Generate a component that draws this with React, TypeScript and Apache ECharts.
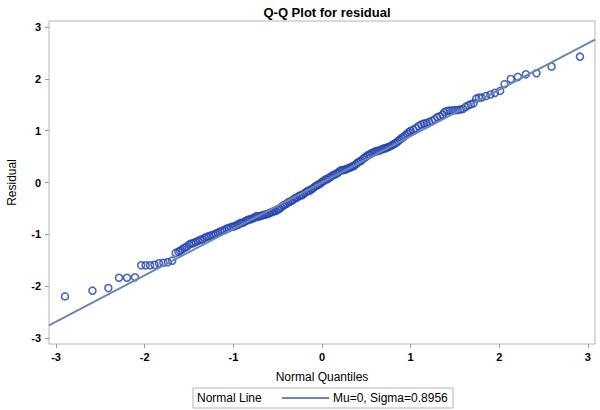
import React, { useEffect, useRef } from "react";
import * as echarts from "echarts";

// Normal line parameters
const MU = 0;
const SIGMA = 0.8956;

// Axis tick values
const xTicks = [-3, -2, -1, 0, 1, 2, 3];
const yTicks = [-3, -2, -1, 0, 1, 2, 3];

// Normal quantiles (x) and residuals (y)
const quantiles = [
  -2.9, -2.59, -2.41, -2.29, -2.2, -2.11, -2.04, -1.99, -1.94, -1.89, -1.84, -1.79, -1.74, -1.69, -1.65, -1.62,
  -1.6, -1.575, -1.55, -1.525, -1.5, -1.475, -1.45, -1.425, -1.4, -1.375, -1.35, -1.325, -1.3, -1.275, -1.25,
  -1.225, -1.2, -1.175, -1.15, -1.125, -1.1, -1.075, -1.05, -1.025, -1.0,
  -0.98, -0.96, -0.94, -0.92, -0.9, -0.88, -0.86, -0.84, -0.82, -0.8, -0.78, -0.76, -0.74, -0.72, -0.7, -0.68,
  -0.66, -0.64, -0.62, -0.6, -0.58, -0.56, -0.54, -0.52, -0.5, -0.48, -0.46, -0.44, -0.42, -0.4, -0.38, -0.36,
  -0.34, -0.32, -0.3, -0.28, -0.26, -0.24, -0.22, -0.2, -0.18, -0.16, -0.14, -0.12, -0.1, -0.08, -0.06, -0.04,
  -0.02, 0.0, 0.02, 0.04, 0.06, 0.08, 0.1, 0.12, 0.14, 0.16, 0.18, 0.2, 0.22, 0.24, 0.26, 0.28, 0.3, 0.32, 0.34,
  0.36, 0.38, 0.4, 0.42, 0.44, 0.46, 0.48, 0.5, 0.52, 0.54, 0.56, 0.58, 0.6, 0.62, 0.64, 0.66, 0.68, 0.7, 0.72,
  0.74, 0.76, 0.78, 0.8, 0.82, 0.84, 0.86, 0.88, 0.9, 0.92, 0.94, 0.96, 0.98,
  1.0, 1.03, 1.06, 1.09, 1.12, 1.15, 1.18, 1.21, 1.24, 1.27, 1.3, 1.33, 1.36, 1.38, 1.41, 1.44, 1.47, 1.5, 1.53,
  1.56, 1.59, 1.62, 1.65, 1.68, 1.71, 1.74, 1.77, 1.8, 1.85, 1.9, 1.95, 2.01, 2.06, 2.13, 2.21, 2.3, 2.42, 2.59,
  2.91,
];
const residuals = [
  -2.2, -2.09, -2.04, -1.84, -1.84, -1.83, -1.6, -1.6, -1.6, -1.59, -1.56, -1.55, -1.54, -1.51, -1.36, -1.34,
  -1.32, -1.29, -1.26, -1.24, -1.2, -1.18, -1.17, -1.15, -1.13, -1.11, -1.1, -1.07, -1.05, -1.04, -1.02,
  -1.01, -0.99, -0.97, -0.95, -0.93, -0.92, -0.89, -0.88, -0.86, -0.85,
  -0.84, -0.82, -0.81, -0.78, -0.78, -0.77, -0.74, -0.73, -0.71, -0.71, -0.69, -0.68, -0.65, -0.66, -0.65, -0.64,
  -0.63, -0.62, -0.61, -0.6, -0.58, -0.57, -0.55, -0.55, -0.52, -0.51, -0.48, -0.45, -0.43, -0.41, -0.38, -0.37,
  -0.35, -0.33, -0.3, -0.29, -0.26, -0.25, -0.24, -0.21, -0.19, -0.16, -0.16, -0.13, -0.11, -0.08, -0.06, -0.04,
  -0.02, 0.01, 0.03, 0.06, 0.06, 0.09, 0.11, 0.14, 0.15, 0.17, 0.19, 0.22, 0.24, 0.24, 0.25, 0.26, 0.28, 0.29, 0.31,
  0.32, 0.35, 0.38, 0.4, 0.42, 0.45, 0.48, 0.5, 0.53, 0.54, 0.57, 0.58, 0.6, 0.61, 0.61, 0.63, 0.64, 0.66, 0.66,
  0.68, 0.69, 0.71, 0.73, 0.75, 0.77, 0.8, 0.83, 0.86, 0.88, 0.91, 0.94, 0.97,
  1.0, 1.02, 1.05, 1.09, 1.12, 1.14, 1.15, 1.17, 1.19, 1.22, 1.26, 1.28, 1.31, 1.36, 1.38, 1.39, 1.39, 1.4, 1.4,
  1.41, 1.42, 1.46, 1.49, 1.51, 1.53, 1.62, 1.64, 1.64, 1.67, 1.7, 1.73, 1.77, 1.9, 2.0, 2.04, 2.09, 2.11, 2.24,
  2.43,
];

const X_MIN = -3.08;
const X_MAX = 3.08;
const Y_MIN = -3.12;
const Y_MAX = 3.12;

const FONT = "Liberation Sans, Arial, sans-serif";

export default function App() {
  const ref = useRef<HTMLDivElement>(null);

  useEffect(() => {
    if (!ref.current) return;
    const chart = echarts.init(ref.current, null, { renderer: "svg" });
    const points = quantiles.map((q, i) => [q, residuals[i]]);
    const lineData = [
      [X_MIN, MU + SIGMA * X_MIN],
      [X_MAX, MU + SIGMA * X_MAX],
    ];
    const axisCommon = {
      type: "value" as const,
      axisLine: { show: false, onZero: false },
      splitLine: { show: false },
      axisTick: { show: true, length: 4, lineStyle: { color: "#9a9a9a", width: 1 } },
      axisLabel: { color: "#000", fontSize: 11, fontWeight: "bold" as const, fontFamily: FONT },
    };
    chart.setOption({
      animation: false,
      backgroundColor: "#fff",
      title: {
        text: "Q-Q Plot for residual",
        left: 322,
        textAlign: "center",
        top: 1,
        textStyle: { fontSize: 13, fontWeight: "bold", color: "#000", fontFamily: FONT },
      },
      grid: {
        left: 49,
        right: 5,
        top: 21,
        bottom: 66,
        show: true,
        borderColor: "#b4b4b4",
        borderWidth: 1,
        containLabel: false,
        outerBoundsMode: "none",
      },
      xAxis: {
        ...axisCommon,
        position: "bottom",
        min: X_MIN,
        max: X_MAX,
        axisTick: { ...axisCommon.axisTick, customValues: xTicks },
        axisLabel: { ...axisCommon.axisLabel, customValues: xTicks, margin: 7 },
        name: "Normal Quantiles",
        nameLocation: "middle",
        nameGap: 27,
        nameTextStyle: { fontSize: 12, color: "#000", fontFamily: FONT },
      },
      yAxis: {
        ...axisCommon,
        position: "left",
        min: Y_MIN,
        max: Y_MAX,
        axisTick: { ...axisCommon.axisTick, customValues: yTicks },
        axisLabel: { ...axisCommon.axisLabel, customValues: yTicks, margin: 8 },
        name: "Residual",
        nameLocation: "middle",
        nameGap: 31,
        nameRotate: 90,
        nameTextStyle: { fontSize: 12, color: "#000", fontFamily: FONT },
      },
      series: [
        {
          type: "scatter",
          name: "residual",
          data: points,
          symbol: "circle",
          symbolSize: 7,
          itemStyle: { color: "rgba(255,255,255,0)", borderColor: "#2342ae", borderWidth: 1.6 },
          z: 2,
        },
        {
          type: "line",
          name: "Mu=0, Sigma=0.8956",
          data: lineData,
          symbol: "none",
          lineStyle: { color: "#6d87ab", width: 2 },
          z: 3,
        },
      ],
      graphic: [
        {
          type: "rect",
          shape: { x: 193, y: 388, width: 260, height: 20 },
          style: { fill: "#fff", stroke: "#b4b4b4", lineWidth: 1 },
        },
        {
          type: "text",
          x: 197,
          y: 398,
          style: { text: "Normal Line", fontSize: 12, fill: "#000", fontFamily: FONT, verticalAlign: "middle" },
        },
        {
          type: "line",
          shape: { x1: 282, y1: 398, x2: 329, y2: 398 },
          style: { stroke: "#6d87ab", lineWidth: 2 },
        },
        {
          type: "text",
          x: 333,
          y: 398,
          style: { text: "Mu=0, Sigma=0.8956", fontSize: 12, fill: "#000", fontFamily: FONT, verticalAlign: "middle" },
        },
      ],
    });
    return () => chart.dispose();
  }, []);

  return (
    <div
      ref={ref}
      style={{ position: "fixed", left: 0, top: 0, width: 600, height: 410, background: "#fff" }}
    />
  );
}
